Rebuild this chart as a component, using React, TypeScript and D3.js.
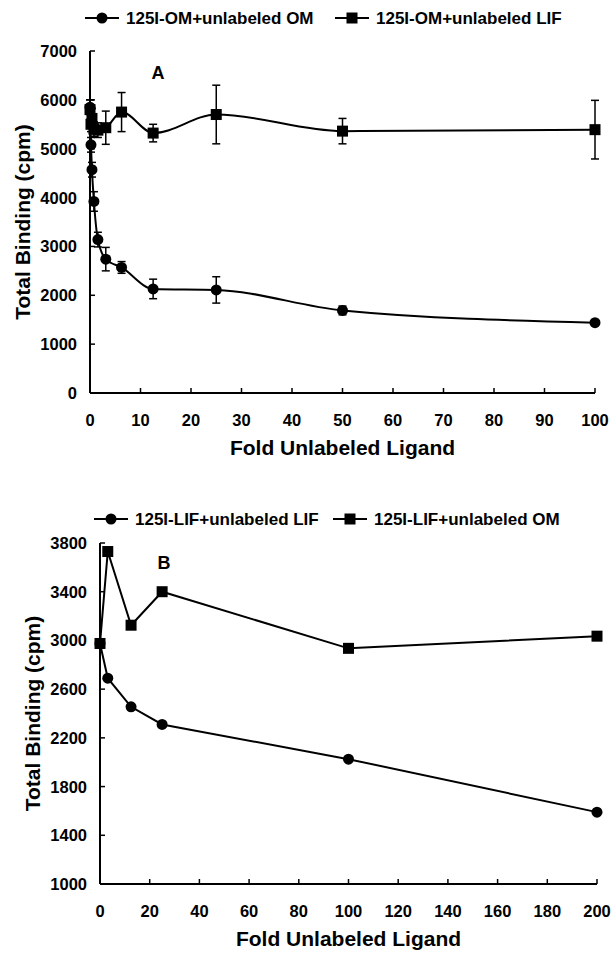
import React from 'react';
import * as d3 from 'd3';

// panel A: 125I-OM binding
const foldA = [0, 0.195, 0.39, 0.78, 1.5625, 3.125, 6.25, 12.5, 25, 50, 100];
const omPlusOM = [5850, 5080, 4570, 3920, 3140, 2740, 2570, 2130, 2110, 1690, 1440];
const omPlusOMErr = [150, 150, 150, 200, 150, 240, 120, 200, 270, 90, 40];
const omPlusLIF = [5800, 5500, 5620, 5400, 5380, 5430, 5750, 5320, 5700, 5360, 5390];
const omPlusLIFErr = [200, 150, 200, 150, 150, 340, 400, 180, 600, 260, 600];
const ticksAX = [0, 10, 20, 30, 40, 50, 60, 70, 80, 90, 100];
const ticksAY = [0, 1000, 2000, 3000, 4000, 5000, 6000, 7000];

// panel B: 125I-LIF binding
const foldB = [0, 3.125, 12.5, 25, 100, 200];
const lifPlusLIF = [2975, 2690, 2455, 2310, 2025, 1590];
const lifPlusOM = [2975, 3730, 3125, 3400, 2935, 3035];
const ticksBX = [0, 20, 40, 60, 80, 100, 120, 140, 160, 180, 200];
const ticksBY = [1000, 1400, 1800, 2200, 2600, 3000, 3400, 3800];

const font = '"Liberation Sans", Arial, sans-serif';

type Pt = { x: number; y: number; e?: number };

const Circle = ({ cx, cy }: { cx: number; cy: number }) => <circle cx={cx} cy={cy} r={5.5} fill="#000" />;
const Square = ({ cx, cy }: { cx: number; cy: number }) => (
  <rect x={cx - 5.5} y={cy - 5.5} width={11} height={11} fill="#000" />
);

const Legend = ({ y, x1, x2, label1, label2 }: any) => (
  <g fontFamily={font} fontWeight="bold" fontSize={17}>
    <line x1={x1} x2={x1 + 34} y1={y} y2={y} stroke="#000" strokeWidth={2} />
    <Circle cx={x1 + 17} cy={y} />
    <text x={x1 + 41} y={y + 6}>{label1}</text>
    <line x1={x2} x2={x2 + 34} y1={y} y2={y} stroke="#000" strokeWidth={2} />
    <Square cx={x2 + 17} cy={y} />
    <text x={x2 + 41} y={y + 6}>{label2}</text>
  </g>
);

const Panel = ({ x, y, xt, yt, series, curve, letter, letterPos }: any) => {
  const [x0, x1] = x.range();
  const [y0, y1] = y.range();
  return (
    <g fontFamily={font} fontWeight="bold">
      {/* axes */}
      <line x1={x0} x2={x1} y1={y0} y2={y0} stroke="#000" strokeWidth={2} />
      <line x1={x0} x2={x0} y1={y0} y2={y1} stroke="#000" strokeWidth={2} />
      {xt.map((t: number) => (
        <g key={'x' + t}>
          <line x1={x(t)} x2={x(t)} y1={y0} y2={y0 - 5} stroke="#000" strokeWidth={1.5} />
          <text x={x(t)} y={y0 + 33} textAnchor="middle" fontSize={16.5}>{t}</text>
        </g>
      ))}
      {yt.map((t: number) => (
        <g key={'y' + t}>
          <line x1={x0} x2={x0 + 5} y1={y(t)} y2={y(t)} stroke="#000" strokeWidth={1.5} />
          <text x={x0 - 13} y={y(t) + 6} textAnchor="end" fontSize={16.5}>{t}</text>
        </g>
      ))}
      <text x={(x0 + x1) / 2} y={y0 + 62} textAnchor="middle" fontSize={21}>Fold Unlabeled Ligand</text>
      <text
        transform={`translate(${x0 - 60},${(y0 + y1) / 2}) rotate(-90)`}
        textAnchor="middle"
        fontSize={21}
      >
        Total Binding (cpm)
      </text>
      <text x={letterPos[0]} y={letterPos[1]} textAnchor="middle" fontSize={18}>{letter}</text>
      {series.map((s: any, i: number) => {
        const line = d3
          .line<Pt>()
          .x((d) => x(d.x))
          .y((d) => y(d.y))
          .curve(curve);
        return (
          <g key={i}>
            <path d={line(s.pts) || ''} fill="none" stroke="#000" strokeWidth={2} />
            {s.pts.map((d: Pt, j: number) =>
              d.e ? (
                <g key={'e' + j} stroke="#000" strokeWidth={1.5}>
                  <line x1={x(d.x)} x2={x(d.x)} y1={y(d.y - d.e)} y2={y(d.y + d.e)} />
                  <line x1={x(d.x) - 4} x2={x(d.x) + 4} y1={y(d.y - d.e)} y2={y(d.y - d.e)} />
                  <line x1={x(d.x) - 4} x2={x(d.x) + 4} y1={y(d.y + d.e)} y2={y(d.y + d.e)} />
                </g>
              ) : null
            )}
            {s.pts.map((d: Pt, j: number) =>
              s.shape === 'circle' ? (
                <Circle key={j} cx={x(d.x)} cy={y(d.y)} />
              ) : (
                <Square key={j} cx={x(d.x)} cy={y(d.y)} />
              )
            )}
          </g>
        );
      })}
    </g>
  );
};

export default function App() {
  const xA = d3.scaleLinear().domain([0, 100]).range([90, 595]);
  const yA = d3.scaleLinear().domain([0, 7000]).range([393, 51]);
  const xB = d3.scaleLinear().domain([0, 200]).range([100, 597]);
  const yB = d3.scaleLinear().domain([1000, 3800]).range([884, 543]);

  const seriesA = [
    { shape: 'square', pts: foldA.map((f, i) => ({ x: f, y: omPlusLIF[i], e: omPlusLIFErr[i] })) },
    { shape: 'circle', pts: foldA.map((f, i) => ({ x: f, y: omPlusOM[i], e: omPlusOMErr[i] })) },
  ];
  const seriesB = [
    { shape: 'square', pts: foldB.map((f, i) => ({ x: f, y: lifPlusOM[i] })) },
    { shape: 'circle', pts: foldB.map((f, i) => ({ x: f, y: lifPlusLIF[i] })) },
  ];

  return (
    <svg width={615} height={954} style={{ position: 'absolute', left: 0, top: 0, background: '#fff' }}>
      <Legend y={18} x1={85} x2={335} label1="125I-OM+unlabeled OM" label2="125I-OM+unlabeled LIF" />
      <Panel x={xA} y={yA} xt={ticksAX} yt={ticksAY} series={seriesA} curve={d3.curveMonotoneX} letter="A" letterPos={[158, 79]} />
      <Legend y={519} x1={94} x2={333} label1="125I-LIF+unlabeled LIF" label2="125I-LIF+unlabeled OM" />
      <Panel x={xB} y={yB} xt={ticksBX} yt={ticksBY} series={seriesB} curve={d3.curveLinear} letter="B" letterPos={[164, 569]} />
    </svg>
  );
}
